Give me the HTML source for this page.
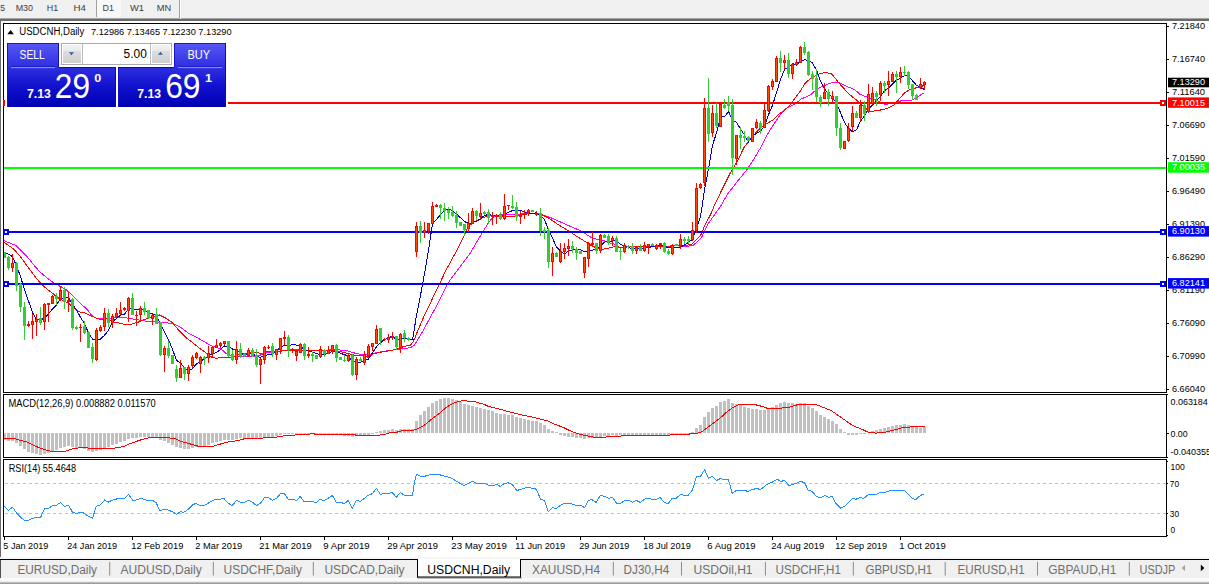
<!DOCTYPE html>
<html><head><meta charset="utf-8"><title>USDCNH</title><style>html,body{margin:0;padding:0;background:#fff;overflow:hidden}body{width:1209px;height:584px}</style></head><body>
<svg width="1209" height="584" viewBox="0 0 1209 584" font-family='"Liberation Sans", sans-serif' style="display:block">
<defs>
<linearGradient id="gb" x1="0" y1="43" x2="0" y2="107" gradientUnits="userSpaceOnUse">
<stop offset="0" stop-color="#5858f8"/><stop offset="0.36" stop-color="#3030e2"/><stop offset="0.7" stop-color="#1010cc"/><stop offset="1" stop-color="#0000b2"/></linearGradient>
<linearGradient id="gbtn" x1="0" y1="45" x2="0" y2="63" gradientUnits="userSpaceOnUse">
<stop offset="0" stop-color="#f2f2f2"/><stop offset="0.3" stop-color="#ebebeb"/><stop offset="0.36" stop-color="#dddddd"/><stop offset="1" stop-color="#cfcfcf"/></linearGradient>
<linearGradient id="garr" x1="0" y1="0" x2="0" y2="1"><stop offset="0" stop-color="#4a86dc"/><stop offset="1" stop-color="#3a2a4a"/></linearGradient>
<linearGradient id="garr2" x1="0" y1="0" x2="0" y2="1"><stop offset="0" stop-color="#4a3a5a"/><stop offset="1" stop-color="#4a86dc"/></linearGradient>
</defs>
<rect x="0" y="0" width="1209" height="584" fill="#fff" />
<rect x="0" y="0" width="1209" height="18" fill="#f0f0f0" />
<rect x="0" y="18" width="1209" height="1" fill="#a6a6a6" />
<rect x="0" y="19" width="1209" height="2" fill="#6a6a6a" />
<rect x="97" y="0" width="24" height="17" fill="#f8f8f8" />
<rect x="96" y="0" width="1" height="17" fill="#a0a0a0" />
<rect x="179" y="0" width="1" height="19" fill="#a0a0a0" />
<rect x="180" y="0" width="1" height="19" fill="#ffffff" />
<text x="0.3" y="10.8" font-size="9" fill="#3c3c3c" textLength="4.8" lengthAdjust="spacingAndGlyphs" >5</text>
<text x="15.7" y="10.8" font-size="9" fill="#3c3c3c" textLength="17.3" lengthAdjust="spacingAndGlyphs" >M30</text>
<text x="46.8" y="10.8" font-size="9" fill="#3c3c3c" textLength="11.4" lengthAdjust="spacingAndGlyphs" >H1</text>
<text x="73.6" y="10.8" font-size="9" fill="#3c3c3c" textLength="12.4" lengthAdjust="spacingAndGlyphs" >H4</text>
<text x="102.6" y="10.8" font-size="9" fill="#3c3c3c" textLength="11.4" lengthAdjust="spacingAndGlyphs" >D1</text>
<text x="130" y="10.8" font-size="9" fill="#3c3c3c" textLength="14" lengthAdjust="spacingAndGlyphs" >W1</text>
<text x="156.8" y="10.8" font-size="9" fill="#3c3c3c" textLength="14.4" lengthAdjust="spacingAndGlyphs" >MN</text>
<rect x="0" y="19" width="1" height="538" fill="#6a6a6a" />
<clipPath id="cm"><rect x="4" y="24" width="1162" height="368"/></clipPath>
<g clip-path="url(#cm)" shape-rendering="crispEdges">
<polyline points="4,240.7 10,243 16,245.6 20,249.5 26.5,255.9 33,264 39.7,271.8 46,277 52.9,282.4 59.5,286 66.2,289.6 75.4,298.2 80,303.2 86.6,308.9 91.9,315.5 97.2,318.8 106.5,318.6 117,317.5 126.3,317.8 135.6,319.5 146.2,321.2 159.4,322.1 172.6,323.5 180.6,327.4 188.5,333.2 199.1,338.7 207,343.3 212.8,346.3 220.8,348.8 227.7,354.8 231.7,356.2 257.5,356.2 261,354.8 265,352.3 277.8,352 280.8,350.6 290.7,349.8 317.5,350.3 337.4,349.8 343.3,350.3 348.2,351.1 356.4,353.6 363.3,354.9 370.1,354.1 381.1,351.8 394.8,349.7 405.8,348.4 410.4,347.7 414.5,345.2 417.8,339.6 422.6,331.4 427.5,322.5 432.4,313.5 437.3,304.6 442.1,294.8 447,285.1 451.1,278.6 456.8,271.3 463.3,262.3 469,255 470.6,252.6 477,241.5 483.5,230.7 487.9,223.8 492.6,217.3 499.9,214.9 514.4,214.9 523.7,213.5 532.9,213.5 540.9,214.2 548.8,216.8 559.4,221.5 572.6,227.4 580.6,230.7 589.8,236.7 596.5,239.3 601.8,240 607,242 613.7,244 619,247.3 632,246.6 666.8,246.2 676.7,245.7 683.6,246.5 692.6,245.7 697.5,241.7 701.5,237.7 703.5,232.8 707.5,224.8 714.8,214.3 721.4,205 727.1,194.7 737.9,180.8 747.2,169.3 753.3,160 761,147 765.5,137.7 771.5,127.7 779.4,115.8 785.4,108.9 791.3,105.9 795.3,103.9 801.3,99 809.9,95.3 817.6,88.6 826.8,84.6 833,82.2 839.2,82.6 847.9,86.8 854.9,89.8 859.9,94.3 864.8,96.2 874.8,99.7 879.7,101.7 884.7,104.2 893.6,103.7 899.6,101.2 904.5,100.2 911.5,100.2 917.5,97.2 921.4,94.3 924.5,92.8" fill="none" stroke="#ff00ff" stroke-width="1" />
<polyline points="4,242.4 13.2,248.6 19.9,255.9 26.5,265.1 33,274 39.7,282.4 46.3,288.5 52.9,293.6 59.6,298.9 68.8,303.5 78,311.5 84.7,312.9 93.2,316.8 99.9,319.5 106.5,318.8 114.4,322.1 123.7,324.1 130.3,324.4 138.2,322.1 146.2,318.8 154.1,316.2 159.4,314.9 166,318.2 172.6,322.8 177.9,329.4 185.9,337.4 192.5,342.6 199.1,347.9 205.7,352.6 211.8,357.2 216.8,358.5 219.8,357.2 231.7,357.2 243.6,353.3 257.5,352.5 262.5,354.3 266.5,351.9 280.8,351.6 282.8,350.8 299.6,350.6 317.5,350.3 335.4,350.3 340.4,351.5 348.2,353.6 357.8,355.9 363,356 368.8,357.3 372.9,353.8 381.1,352.2 394.8,349.7 400.3,347.7 408.5,345.2 410.4,345.2 413.7,341.2 416.1,334.7 421,323.3 425.9,311.9 430.8,302.2 434.8,293.2 439.7,283.5 445.4,271.3 450.3,262.3 454.3,255 455.7,252.6 460,244 464.6,234.7 468.1,226.5 474.5,221.8 482.2,218 489.9,215.6 502.7,216.7 514.4,216.2 523.7,214.2 535.6,213.5 542.2,214.9 548.8,218.2 559.4,225.4 567.3,230.1 575.3,235.4 585.9,242 589.8,244.6 595.1,247.3 603.1,249.3 612.3,247.3 615,246 620.3,247.3 640,246.5 681.7,245.9 687.6,245.2 692.6,243.7 696.5,239.7 700.5,235.7 703,229.8 705.5,223.8 710.4,214.9 714.8,204.5 722.5,188.5 730.2,173.1 734.8,165.4 739,158 743.7,148 751.6,137.7 757.6,130.7 765.5,124.3 772.5,120.3 779.4,113.8 785.4,109.9 791.3,103.4 795.3,97.9 800,91.5 805.3,83 811.6,77.7 819.5,73.7 825.5,72.4 831.4,73.7 836.4,79.7 841.4,86 849.9,94.8 857.9,101.2 864.8,107.7 869.8,111.6 877.7,110.6 886.7,108.7 893.6,105.2 898.6,99.7 904.5,92.8 909.5,89.8 914.5,88.3 919.4,86.8 924.5,85.5" fill="none" stroke="#ff0000" stroke-width="1" />
<polyline points="4.5,252.3 8.5,254.3 12.5,256.6 16.5,265.9 20.5,276.34 24.5,289.88 28.5,301 32.5,312.6 36.5,319.2 40.5,320.1 44.5,318 48.5,313.9 52.5,308.84 56.5,304.84 60.5,298.38 64.5,298.06 68.5,297.44 72.5,304 76.5,310.04 80.5,317.34 84.5,323.46 88.5,333 92.5,339.04 96.5,339.2 100.5,339.16 104.5,335.26 108.5,330.3 112.5,321.76 116.5,318.38 120.5,315.06 124.5,314.14 128.5,309.1 132.5,308.86 136.5,309.3 140.5,308.86 144.5,309.54 148.5,313.66 152.5,313.66 156.5,315.38 160.5,324.8 164.5,332.06 168.5,339.68 172.5,349.52 176.5,360.28 180.5,362.84 184.5,367.98 188.5,370.18 192.5,368.72 196.5,363.78 200.5,361.54 204.5,358.6 208.5,355.78 212.5,353.84 216.5,352.3 220.5,349.56 224.5,345.92 228.5,346.46 232.5,349 236.5,349.8 240.5,352.4 244.5,355.44 248.5,354.3 252.5,353.56 256.5,356.66 260.5,357.26 264.5,355.42 268.5,354.72 272.5,354.38 276.5,351.28 280.5,347.08 284.5,345.08 288.5,345.78 292.5,344.72 296.5,345.06 300.5,346.24 304.5,350.04 308.5,350.78 312.5,352.14 316.5,353.7 320.5,354.72 324.5,354.32 328.5,353.48 332.5,351.32 336.5,351.12 340.5,353.28 344.5,354.74 348.5,355.72 352.5,361.7 356.5,362 360.5,362.18 364.5,360.76 368.5,359 372.5,352.66 376.5,346.64 380.5,342.66 384.5,339.62 388.5,337.78 392.5,336.3 396.5,339.86 400.5,338.5 404.5,338.4 408.5,339.04 412.5,339.68 416.5,315.52 420.5,295.26 424.5,273.62 428.5,250.3 432.5,223.72 436.5,219.46 440.5,214.5 444.5,210.72 448.5,208.6 452.5,210.58 456.5,214.26 460.5,217.8 464.5,221.48 468.5,223.54 472.5,222.56 476.5,221.18 480.5,218.74 484.5,215.56 488.5,214.46 492.5,215.3 496.5,215.08 500.5,216.16 504.5,214.58 508.5,212.08 512.5,210.68 516.5,211.08 520.5,210.38 524.5,211.84 528.5,212.9 532.5,213.56 536.5,212.66 540.5,215.82 544.5,219.62 548.5,229.9 552.5,238.24 556.5,247.04 560.5,251.02 564.5,254.16 568.5,251.02 572.5,250.12 576.5,249.32 580.5,249.88 584.5,251.74 588.5,251.22 592.5,250.06 596.5,249.66 600.5,245.92 604.5,242.04 608.5,241.74 612.5,240.82 616.5,240.98 620.5,244.32 624.5,245.8 628.5,246.88 632.5,249.34 636.5,248.36 640.5,248.14 644.5,248.12 648.5,247.5 652.5,246.54 656.5,246.24 660.5,244.74 664.5,246.02 668.5,247.9 672.5,247.76 676.5,247.86 680.5,247.06 684.5,244.92 688.5,242.34 692.5,239.34 696.5,227.84 700.5,216.72 704.5,190.1 708.5,168.66 712.5,145.22 716.5,132.88 720.5,116.96 724.5,116.96 728.5,111.42 732.5,120.52 736.5,122.26 740.5,129.02 744.5,135 748.5,142.08 752.5,136.02 756.5,133.38 760.5,131.36 764.5,125.82 768.5,114.82 772.5,105.32 776.5,92.54 780.5,79.56 784.5,69.56 788.5,67.06 792.5,63.72 796.5,64.5 800.5,61.32 804.5,59.9 808.5,60.12 812.5,63.06 816.5,70 820.5,81.2 824.5,89.04 828.5,93.88 832.5,97.38 836.5,103.64 840.5,112.72 844.5,122.58 848.5,128.28 852.5,131.72 856.5,129.78 860.5,121.18 864.5,115.62 868.5,108.98 872.5,104.98 876.5,100.66 880.5,96.22 884.5,90.7 888.5,88.08 892.5,84.1 896.5,80.24 900.5,78.08 904.5,75.54 908.5,76.3 912.5,80.84 916.5,85.32 920.5,87.72 924.5,89.46" fill="none" stroke="#0000cd" stroke-width="1" />
</g>
<g shape-rendering="crispEdges">
<rect x="4" y="102" width="1162" height="2" fill="#ff0000" />
<rect x="4" y="167" width="1162" height="2" fill="#00ff00" />
<rect x="4" y="231" width="1162" height="2" fill="#0000ff" />
<rect x="4" y="283" width="1162" height="2" fill="#0000ff" />
</g>
<g clip-path="url(#cm)" shape-rendering="crispEdges">
<rect x="4" y="252" width="1" height="6" fill="#32cd32" />
<rect x="3" y="252" width="3" height="6" fill="#32cd32" />
<rect x="8" y="256" width="1" height="14" fill="#32cd32" />
<rect x="7" y="257" width="3" height="11" fill="#32cd32" />
<rect x="12" y="254" width="1" height="18" fill="#ff0000" />
<rect x="11" y="263" width="3" height="5" fill="#ff0000" />
<rect x="12" y="264" width="1" height="3" fill="#ff4a00" />
<rect x="16" y="262" width="1" height="29" fill="#32cd32" />
<rect x="15" y="263" width="3" height="23" fill="#32cd32" />
<rect x="20" y="283" width="1" height="29" fill="#32cd32" />
<rect x="19" y="284" width="3" height="23" fill="#32cd32" />
<rect x="24" y="302" width="1" height="38" fill="#32cd32" />
<rect x="23" y="307" width="3" height="19" fill="#32cd32" />
<rect x="28" y="321" width="1" height="6" fill="#ff0000" />
<rect x="27" y="324" width="3" height="2" fill="#ff0000" />
<rect x="32" y="314" width="1" height="25" fill="#ff0000" />
<rect x="31" y="321" width="3" height="4" fill="#ff0000" />
<rect x="32" y="322" width="1" height="2" fill="#ff4a00" />
<rect x="36" y="314" width="1" height="22" fill="#ff0000" />
<rect x="35" y="319" width="3" height="3" fill="#ff0000" />
<rect x="36" y="320" width="1" height="1" fill="#ff4a00" />
<rect x="40" y="307" width="1" height="18" fill="#32cd32" />
<rect x="39" y="318" width="3" height="5" fill="#32cd32" />
<rect x="44" y="303" width="1" height="27" fill="#ff0000" />
<rect x="43" y="304" width="3" height="18" fill="#ff0000" />
<rect x="44" y="305" width="1" height="16" fill="#ff4a00" />
<rect x="48" y="303" width="1" height="19" fill="#ff0000" />
<rect x="47" y="303" width="3" height="2" fill="#ff0000" />
<rect x="52" y="295" width="1" height="9" fill="#ff0000" />
<rect x="51" y="296" width="3" height="8" fill="#ff0000" />
<rect x="52" y="297" width="1" height="6" fill="#ff4a00" />
<rect x="56" y="293" width="1" height="12" fill="#32cd32" />
<rect x="55" y="296" width="3" height="3" fill="#32cd32" />
<rect x="60" y="286" width="1" height="15" fill="#ff0000" />
<rect x="59" y="290" width="3" height="9" fill="#ff0000" />
<rect x="60" y="291" width="1" height="7" fill="#ff4a00" />
<rect x="64" y="287" width="1" height="22" fill="#32cd32" />
<rect x="63" y="290" width="3" height="12" fill="#32cd32" />
<rect x="68" y="292" width="1" height="20" fill="#ff0000" />
<rect x="67" y="300" width="3" height="2" fill="#ff0000" />
<rect x="72" y="298" width="1" height="32" fill="#32cd32" />
<rect x="71" y="299" width="3" height="29" fill="#32cd32" />
<rect x="76" y="326" width="1" height="4" fill="#32cd32" />
<rect x="75" y="327" width="3" height="2" fill="#32cd32" />
<rect x="80" y="324" width="1" height="18" fill="#ff0000" />
<rect x="79" y="327" width="3" height="1" fill="#ff0000" />
<rect x="84" y="321" width="1" height="13" fill="#32cd32" />
<rect x="83" y="326" width="3" height="7" fill="#32cd32" />
<rect x="88" y="331" width="1" height="17" fill="#32cd32" />
<rect x="87" y="332" width="3" height="16" fill="#32cd32" />
<rect x="92" y="343" width="1" height="20" fill="#32cd32" />
<rect x="91" y="347" width="3" height="12" fill="#32cd32" />
<rect x="96" y="328" width="1" height="33" fill="#ff0000" />
<rect x="95" y="330" width="3" height="30" fill="#ff0000" />
<rect x="96" y="331" width="1" height="28" fill="#ff4a00" />
<rect x="100" y="325" width="1" height="7" fill="#ff0000" />
<rect x="99" y="327" width="3" height="4" fill="#ff0000" />
<rect x="100" y="328" width="1" height="2" fill="#ff4a00" />
<rect x="104" y="308" width="1" height="23" fill="#ff0000" />
<rect x="103" y="313" width="3" height="14" fill="#ff0000" />
<rect x="104" y="314" width="1" height="12" fill="#ff4a00" />
<rect x="108" y="309" width="1" height="18" fill="#32cd32" />
<rect x="107" y="313" width="3" height="10" fill="#32cd32" />
<rect x="112" y="314" width="1" height="14" fill="#ff0000" />
<rect x="111" y="316" width="3" height="7" fill="#ff0000" />
<rect x="112" y="317" width="1" height="5" fill="#ff4a00" />
<rect x="116" y="308" width="1" height="10" fill="#ff0000" />
<rect x="115" y="313" width="3" height="4" fill="#ff0000" />
<rect x="116" y="314" width="1" height="2" fill="#ff4a00" />
<rect x="120" y="302" width="1" height="13" fill="#ff0000" />
<rect x="119" y="310" width="3" height="4" fill="#ff0000" />
<rect x="120" y="311" width="1" height="2" fill="#ff4a00" />
<rect x="124" y="307" width="1" height="4" fill="#ff0000" />
<rect x="123" y="308" width="3" height="2" fill="#ff0000" />
<rect x="128" y="297" width="1" height="25" fill="#ff0000" />
<rect x="127" y="298" width="3" height="13" fill="#ff0000" />
<rect x="128" y="299" width="1" height="11" fill="#ff4a00" />
<rect x="132" y="293" width="1" height="22" fill="#32cd32" />
<rect x="131" y="298" width="3" height="17" fill="#32cd32" />
<rect x="136" y="311" width="1" height="15" fill="#ff0000" />
<rect x="135" y="315" width="3" height="1" fill="#ff0000" />
<rect x="140" y="306" width="1" height="16" fill="#ff0000" />
<rect x="139" y="308" width="3" height="7" fill="#ff0000" />
<rect x="140" y="309" width="1" height="5" fill="#ff4a00" />
<rect x="144" y="302" width="1" height="13" fill="#32cd32" />
<rect x="143" y="308" width="3" height="4" fill="#32cd32" />
<rect x="148" y="310" width="1" height="9" fill="#32cd32" />
<rect x="147" y="310" width="3" height="8" fill="#32cd32" />
<rect x="152" y="314" width="1" height="11" fill="#ff0000" />
<rect x="151" y="315" width="3" height="4" fill="#ff0000" />
<rect x="152" y="316" width="1" height="2" fill="#ff4a00" />
<rect x="156" y="308" width="1" height="16" fill="#32cd32" />
<rect x="155" y="314" width="3" height="10" fill="#32cd32" />
<rect x="160" y="322" width="1" height="34" fill="#32cd32" />
<rect x="159" y="322" width="3" height="33" fill="#32cd32" />
<rect x="164" y="346" width="1" height="26" fill="#ff0000" />
<rect x="163" y="348" width="3" height="7" fill="#ff0000" />
<rect x="164" y="349" width="1" height="5" fill="#ff4a00" />
<rect x="168" y="341" width="1" height="17" fill="#32cd32" />
<rect x="167" y="348" width="3" height="8" fill="#32cd32" />
<rect x="172" y="355" width="1" height="9" fill="#32cd32" />
<rect x="171" y="355" width="3" height="9" fill="#32cd32" />
<rect x="176" y="365" width="1" height="17" fill="#32cd32" />
<rect x="175" y="369" width="3" height="9" fill="#32cd32" />
<rect x="180" y="360" width="1" height="18" fill="#ff0000" />
<rect x="179" y="368" width="3" height="10" fill="#ff0000" />
<rect x="180" y="369" width="1" height="8" fill="#ff4a00" />
<rect x="184" y="367" width="1" height="13" fill="#32cd32" />
<rect x="183" y="367" width="3" height="7" fill="#32cd32" />
<rect x="188" y="365" width="1" height="16" fill="#ff0000" />
<rect x="187" y="367" width="3" height="7" fill="#ff0000" />
<rect x="188" y="368" width="1" height="5" fill="#ff4a00" />
<rect x="192" y="355" width="1" height="13" fill="#ff0000" />
<rect x="191" y="357" width="3" height="9" fill="#ff0000" />
<rect x="192" y="358" width="1" height="7" fill="#ff4a00" />
<rect x="196" y="352" width="1" height="7" fill="#ff0000" />
<rect x="195" y="353" width="3" height="5" fill="#ff0000" />
<rect x="196" y="354" width="1" height="3" fill="#ff4a00" />
<rect x="200" y="356" width="1" height="17" fill="#ff0000" />
<rect x="199" y="357" width="3" height="7" fill="#ff0000" />
<rect x="200" y="358" width="1" height="5" fill="#ff4a00" />
<rect x="204" y="356" width="1" height="9" fill="#32cd32" />
<rect x="203" y="357" width="3" height="2" fill="#32cd32" />
<rect x="208" y="346" width="1" height="17" fill="#ff0000" />
<rect x="207" y="353" width="3" height="5" fill="#ff0000" />
<rect x="208" y="354" width="1" height="3" fill="#ff4a00" />
<rect x="212" y="346" width="1" height="11" fill="#ff0000" />
<rect x="211" y="347" width="3" height="7" fill="#ff0000" />
<rect x="212" y="348" width="1" height="5" fill="#ff4a00" />
<rect x="216" y="339" width="1" height="9" fill="#ff0000" />
<rect x="215" y="345" width="3" height="3" fill="#ff0000" />
<rect x="216" y="346" width="1" height="1" fill="#ff4a00" />
<rect x="220" y="342" width="1" height="6" fill="#ff0000" />
<rect x="219" y="343" width="3" height="3" fill="#ff0000" />
<rect x="220" y="344" width="1" height="1" fill="#ff4a00" />
<rect x="224" y="341" width="1" height="4" fill="#ff0000" />
<rect x="223" y="341" width="3" height="3" fill="#ff0000" />
<rect x="224" y="342" width="1" height="1" fill="#ff4a00" />
<rect x="228" y="341" width="1" height="16" fill="#32cd32" />
<rect x="227" y="341" width="3" height="15" fill="#32cd32" />
<rect x="232" y="350" width="1" height="11" fill="#32cd32" />
<rect x="231" y="354" width="3" height="6" fill="#32cd32" />
<rect x="236" y="341" width="1" height="23" fill="#ff0000" />
<rect x="235" y="349" width="3" height="11" fill="#ff0000" />
<rect x="236" y="350" width="1" height="9" fill="#ff4a00" />
<rect x="240" y="343" width="1" height="15" fill="#32cd32" />
<rect x="239" y="349" width="3" height="7" fill="#32cd32" />
<rect x="244" y="353" width="1" height="4" fill="#32cd32" />
<rect x="243" y="354" width="3" height="2" fill="#32cd32" />
<rect x="248" y="348" width="1" height="9" fill="#ff0000" />
<rect x="247" y="350" width="3" height="6" fill="#ff0000" />
<rect x="248" y="351" width="1" height="4" fill="#ff4a00" />
<rect x="252" y="348" width="1" height="9" fill="#32cd32" />
<rect x="251" y="350" width="3" height="6" fill="#32cd32" />
<rect x="256" y="349" width="1" height="18" fill="#32cd32" />
<rect x="255" y="355" width="3" height="10" fill="#32cd32" />
<rect x="260" y="358" width="1" height="26" fill="#ff0000" />
<rect x="259" y="359" width="3" height="6" fill="#ff0000" />
<rect x="260" y="360" width="1" height="4" fill="#ff4a00" />
<rect x="264" y="346" width="1" height="18" fill="#ff0000" />
<rect x="263" y="347" width="3" height="13" fill="#ff0000" />
<rect x="264" y="348" width="1" height="11" fill="#ff4a00" />
<rect x="268" y="345" width="1" height="4" fill="#ff0000" />
<rect x="267" y="347" width="3" height="1" fill="#ff0000" />
<rect x="272" y="343" width="1" height="14" fill="#32cd32" />
<rect x="271" y="346" width="3" height="8" fill="#32cd32" />
<rect x="276" y="349" width="1" height="11" fill="#ff0000" />
<rect x="275" y="349" width="3" height="6" fill="#ff0000" />
<rect x="276" y="350" width="1" height="4" fill="#ff4a00" />
<rect x="280" y="338" width="1" height="16" fill="#ff0000" />
<rect x="279" y="338" width="3" height="12" fill="#ff0000" />
<rect x="280" y="339" width="1" height="10" fill="#ff4a00" />
<rect x="284" y="331" width="1" height="14" fill="#ff0000" />
<rect x="283" y="337" width="3" height="2" fill="#ff0000" />
<rect x="288" y="335" width="1" height="22" fill="#32cd32" />
<rect x="287" y="337" width="3" height="13" fill="#32cd32" />
<rect x="292" y="348" width="1" height="5" fill="#ff0000" />
<rect x="291" y="349" width="3" height="2" fill="#ff0000" />
<rect x="296" y="350" width="1" height="11" fill="#ff0000" />
<rect x="295" y="351" width="3" height="5" fill="#ff0000" />
<rect x="296" y="352" width="1" height="3" fill="#ff4a00" />
<rect x="300" y="343" width="1" height="10" fill="#ff0000" />
<rect x="299" y="344" width="3" height="9" fill="#ff0000" />
<rect x="300" y="345" width="1" height="7" fill="#ff4a00" />
<rect x="304" y="343" width="1" height="17" fill="#32cd32" />
<rect x="303" y="344" width="3" height="12" fill="#32cd32" />
<rect x="308" y="347" width="1" height="11" fill="#ff0000" />
<rect x="307" y="354" width="3" height="2" fill="#ff0000" />
<rect x="312" y="352" width="1" height="10" fill="#32cd32" />
<rect x="311" y="354" width="3" height="2" fill="#32cd32" />
<rect x="316" y="355" width="1" height="4" fill="#32cd32" />
<rect x="315" y="355" width="3" height="4" fill="#32cd32" />
<rect x="320" y="346" width="1" height="12" fill="#ff0000" />
<rect x="319" y="349" width="3" height="8" fill="#ff0000" />
<rect x="320" y="350" width="1" height="6" fill="#ff4a00" />
<rect x="324" y="349" width="1" height="8" fill="#32cd32" />
<rect x="323" y="350" width="3" height="4" fill="#32cd32" />
<rect x="328" y="346" width="1" height="8" fill="#ff0000" />
<rect x="327" y="350" width="3" height="4" fill="#ff0000" />
<rect x="328" y="351" width="1" height="2" fill="#ff4a00" />
<rect x="332" y="345" width="1" height="9" fill="#ff0000" />
<rect x="331" y="345" width="3" height="6" fill="#ff0000" />
<rect x="332" y="346" width="1" height="4" fill="#ff4a00" />
<rect x="336" y="344" width="1" height="18" fill="#32cd32" />
<rect x="335" y="345" width="3" height="13" fill="#32cd32" />
<rect x="340" y="357" width="1" height="3" fill="#32cd32" />
<rect x="339" y="357" width="3" height="3" fill="#32cd32" />
<rect x="344" y="355" width="1" height="7" fill="#32cd32" />
<rect x="343" y="360" width="3" height="1" fill="#32cd32" />
<rect x="348" y="353" width="1" height="9" fill="#ff0000" />
<rect x="347" y="355" width="3" height="6" fill="#ff0000" />
<rect x="348" y="356" width="1" height="4" fill="#ff4a00" />
<rect x="352" y="354" width="1" height="22" fill="#32cd32" />
<rect x="351" y="355" width="3" height="20" fill="#32cd32" />
<rect x="356" y="357" width="1" height="23" fill="#ff0000" />
<rect x="355" y="359" width="3" height="16" fill="#ff0000" />
<rect x="356" y="360" width="1" height="14" fill="#ff4a00" />
<rect x="360" y="357" width="1" height="4" fill="#32cd32" />
<rect x="359" y="359" width="3" height="2" fill="#32cd32" />
<rect x="364" y="351" width="1" height="14" fill="#ff0000" />
<rect x="363" y="354" width="3" height="9" fill="#ff0000" />
<rect x="364" y="355" width="1" height="7" fill="#ff4a00" />
<rect x="368" y="344" width="1" height="13" fill="#ff0000" />
<rect x="367" y="346" width="3" height="10" fill="#ff0000" />
<rect x="368" y="347" width="1" height="8" fill="#ff4a00" />
<rect x="372" y="343" width="1" height="8" fill="#ff0000" />
<rect x="371" y="343" width="3" height="4" fill="#ff0000" />
<rect x="372" y="344" width="1" height="2" fill="#ff4a00" />
<rect x="376" y="325" width="1" height="19" fill="#ff0000" />
<rect x="375" y="329" width="3" height="15" fill="#ff0000" />
<rect x="376" y="330" width="1" height="13" fill="#ff4a00" />
<rect x="380" y="328" width="1" height="17" fill="#32cd32" />
<rect x="379" y="328" width="3" height="13" fill="#32cd32" />
<rect x="384" y="338" width="1" height="3" fill="#ff0000" />
<rect x="383" y="339" width="3" height="1" fill="#ff0000" />
<rect x="388" y="334" width="1" height="9" fill="#ff0000" />
<rect x="387" y="337" width="3" height="3" fill="#ff0000" />
<rect x="388" y="338" width="1" height="1" fill="#ff4a00" />
<rect x="392" y="332" width="1" height="8" fill="#ff0000" />
<rect x="391" y="336" width="3" height="2" fill="#ff0000" />
<rect x="396" y="336" width="1" height="14" fill="#32cd32" />
<rect x="395" y="336" width="3" height="11" fill="#32cd32" />
<rect x="400" y="333" width="1" height="20" fill="#ff0000" />
<rect x="399" y="334" width="3" height="14" fill="#ff0000" />
<rect x="400" y="335" width="1" height="12" fill="#ff4a00" />
<rect x="404" y="330" width="1" height="12" fill="#32cd32" />
<rect x="403" y="333" width="3" height="5" fill="#32cd32" />
<rect x="408" y="337" width="1" height="4" fill="#32cd32" />
<rect x="407" y="338" width="3" height="2" fill="#32cd32" />
<rect x="412" y="339" width="1" height="1" fill="#000" />
<rect x="411" y="339" width="3" height="1" fill="#000" />
<rect x="416" y="222" width="1" height="35" fill="#ff0000" />
<rect x="415" y="226" width="3" height="26" fill="#ff0000" />
<rect x="416" y="227" width="1" height="24" fill="#ff4a00" />
<rect x="420" y="221" width="1" height="22" fill="#32cd32" />
<rect x="419" y="226" width="3" height="7" fill="#32cd32" />
<rect x="424" y="222" width="1" height="16" fill="#ff0000" />
<rect x="423" y="230" width="3" height="3" fill="#ff0000" />
<rect x="424" y="231" width="1" height="1" fill="#ff4a00" />
<rect x="428" y="223" width="1" height="11" fill="#ff0000" />
<rect x="427" y="223" width="3" height="8" fill="#ff0000" />
<rect x="428" y="224" width="1" height="6" fill="#ff4a00" />
<rect x="432" y="202" width="1" height="22" fill="#ff0000" />
<rect x="431" y="206" width="3" height="18" fill="#ff0000" />
<rect x="432" y="207" width="1" height="16" fill="#ff4a00" />
<rect x="436" y="204" width="1" height="3" fill="#ff0000" />
<rect x="435" y="205" width="3" height="2" fill="#ff0000" />
<rect x="440" y="204" width="1" height="15" fill="#32cd32" />
<rect x="439" y="205" width="3" height="3" fill="#32cd32" />
<rect x="444" y="203" width="1" height="18" fill="#32cd32" />
<rect x="443" y="208" width="3" height="3" fill="#32cd32" />
<rect x="448" y="207" width="1" height="12" fill="#32cd32" />
<rect x="447" y="210" width="3" height="3" fill="#32cd32" />
<rect x="452" y="206" width="1" height="11" fill="#32cd32" />
<rect x="451" y="212" width="3" height="4" fill="#32cd32" />
<rect x="456" y="211" width="1" height="17" fill="#32cd32" />
<rect x="455" y="215" width="3" height="8" fill="#32cd32" />
<rect x="460" y="222" width="1" height="4" fill="#32cd32" />
<rect x="459" y="222" width="3" height="4" fill="#32cd32" />
<rect x="464" y="224" width="1" height="12" fill="#32cd32" />
<rect x="463" y="224" width="3" height="6" fill="#32cd32" />
<rect x="468" y="213" width="1" height="19" fill="#ff0000" />
<rect x="467" y="223" width="3" height="6" fill="#ff0000" />
<rect x="468" y="224" width="1" height="4" fill="#ff4a00" />
<rect x="472" y="208" width="1" height="16" fill="#ff0000" />
<rect x="471" y="211" width="3" height="13" fill="#ff0000" />
<rect x="472" y="212" width="1" height="11" fill="#ff4a00" />
<rect x="476" y="210" width="1" height="10" fill="#32cd32" />
<rect x="475" y="211" width="3" height="5" fill="#32cd32" />
<rect x="480" y="203" width="1" height="17" fill="#ff0000" />
<rect x="479" y="213" width="3" height="4" fill="#ff0000" />
<rect x="480" y="214" width="1" height="2" fill="#ff4a00" />
<rect x="484" y="211" width="1" height="4" fill="#32cd32" />
<rect x="483" y="212" width="3" height="2" fill="#32cd32" />
<rect x="488" y="209" width="1" height="15" fill="#32cd32" />
<rect x="487" y="212" width="3" height="6" fill="#32cd32" />
<rect x="492" y="212" width="1" height="13" fill="#ff0000" />
<rect x="491" y="215" width="3" height="2" fill="#ff0000" />
<rect x="496" y="214" width="1" height="10" fill="#ff0000" />
<rect x="495" y="215" width="3" height="2" fill="#ff0000" />
<rect x="500" y="212" width="1" height="8" fill="#32cd32" />
<rect x="499" y="215" width="3" height="4" fill="#32cd32" />
<rect x="504" y="194" width="1" height="26" fill="#ff0000" />
<rect x="503" y="206" width="3" height="13" fill="#ff0000" />
<rect x="504" y="207" width="1" height="11" fill="#ff4a00" />
<rect x="508" y="205" width="1" height="5" fill="#ff0000" />
<rect x="507" y="205" width="3" height="1" fill="#ff0000" />
<rect x="512" y="195" width="1" height="14" fill="#32cd32" />
<rect x="511" y="206" width="3" height="2" fill="#32cd32" />
<rect x="516" y="202" width="1" height="19" fill="#32cd32" />
<rect x="515" y="207" width="3" height="10" fill="#32cd32" />
<rect x="520" y="211" width="1" height="13" fill="#ff0000" />
<rect x="519" y="215" width="3" height="2" fill="#ff0000" />
<rect x="524" y="210" width="1" height="9" fill="#ff0000" />
<rect x="523" y="213" width="3" height="2" fill="#ff0000" />
<rect x="528" y="209" width="1" height="7" fill="#ff0000" />
<rect x="527" y="210" width="3" height="3" fill="#ff0000" />
<rect x="528" y="211" width="1" height="1" fill="#ff4a00" />
<rect x="532" y="210" width="1" height="2" fill="#32cd32" />
<rect x="531" y="210" width="3" height="2" fill="#32cd32" />
<rect x="536" y="211" width="1" height="5" fill="#ff0000" />
<rect x="535" y="213" width="3" height="2" fill="#ff0000" />
<rect x="540" y="208" width="1" height="28" fill="#32cd32" />
<rect x="539" y="213" width="3" height="18" fill="#32cd32" />
<rect x="544" y="227" width="1" height="12" fill="#32cd32" />
<rect x="543" y="230" width="3" height="2" fill="#32cd32" />
<rect x="548" y="228" width="1" height="40" fill="#32cd32" />
<rect x="547" y="230" width="3" height="32" fill="#32cd32" />
<rect x="552" y="247" width="1" height="29" fill="#ff0000" />
<rect x="551" y="253" width="3" height="9" fill="#ff0000" />
<rect x="552" y="254" width="1" height="7" fill="#ff4a00" />
<rect x="556" y="252" width="1" height="5" fill="#32cd32" />
<rect x="555" y="253" width="3" height="4" fill="#32cd32" />
<rect x="560" y="243" width="1" height="20" fill="#ff0000" />
<rect x="559" y="251" width="3" height="11" fill="#ff0000" />
<rect x="560" y="252" width="1" height="9" fill="#ff4a00" />
<rect x="564" y="243" width="1" height="16" fill="#ff0000" />
<rect x="563" y="248" width="3" height="4" fill="#ff0000" />
<rect x="564" y="249" width="1" height="2" fill="#ff4a00" />
<rect x="568" y="239" width="1" height="17" fill="#ff0000" />
<rect x="567" y="246" width="3" height="3" fill="#ff0000" />
<rect x="568" y="247" width="1" height="1" fill="#ff4a00" />
<rect x="572" y="241" width="1" height="12" fill="#32cd32" />
<rect x="571" y="246" width="3" height="3" fill="#32cd32" />
<rect x="576" y="247" width="1" height="13" fill="#32cd32" />
<rect x="575" y="249" width="3" height="4" fill="#32cd32" />
<rect x="580" y="251" width="1" height="3" fill="#32cd32" />
<rect x="579" y="251" width="3" height="3" fill="#32cd32" />
<rect x="584" y="257" width="1" height="21" fill="#ff0000" />
<rect x="583" y="257" width="3" height="16" fill="#ff0000" />
<rect x="584" y="258" width="1" height="14" fill="#ff4a00" />
<rect x="588" y="242" width="1" height="25" fill="#ff0000" />
<rect x="587" y="243" width="3" height="16" fill="#ff0000" />
<rect x="588" y="244" width="1" height="14" fill="#ff4a00" />
<rect x="592" y="232" width="1" height="15" fill="#ff0000" />
<rect x="591" y="243" width="3" height="2" fill="#ff0000" />
<rect x="596" y="243" width="1" height="11" fill="#32cd32" />
<rect x="595" y="243" width="3" height="8" fill="#32cd32" />
<rect x="600" y="234" width="1" height="19" fill="#ff0000" />
<rect x="599" y="235" width="3" height="16" fill="#ff0000" />
<rect x="600" y="236" width="1" height="14" fill="#ff4a00" />
<rect x="604" y="234" width="1" height="4" fill="#32cd32" />
<rect x="603" y="235" width="3" height="3" fill="#32cd32" />
<rect x="608" y="234" width="1" height="11" fill="#32cd32" />
<rect x="607" y="236" width="3" height="6" fill="#32cd32" />
<rect x="612" y="236" width="1" height="10" fill="#ff0000" />
<rect x="611" y="238" width="3" height="3" fill="#ff0000" />
<rect x="612" y="239" width="1" height="1" fill="#ff4a00" />
<rect x="616" y="236" width="1" height="16" fill="#32cd32" />
<rect x="615" y="238" width="3" height="14" fill="#32cd32" />
<rect x="620" y="248" width="1" height="12" fill="#32cd32" />
<rect x="619" y="251" width="3" height="1" fill="#32cd32" />
<rect x="624" y="243" width="1" height="10" fill="#ff0000" />
<rect x="623" y="245" width="3" height="7" fill="#ff0000" />
<rect x="624" y="246" width="1" height="5" fill="#ff4a00" />
<rect x="628" y="245" width="1" height="4" fill="#32cd32" />
<rect x="627" y="246" width="3" height="1" fill="#32cd32" />
<rect x="632" y="243" width="1" height="11" fill="#32cd32" />
<rect x="631" y="246" width="3" height="5" fill="#32cd32" />
<rect x="636" y="246" width="1" height="8" fill="#ff0000" />
<rect x="635" y="247" width="3" height="4" fill="#ff0000" />
<rect x="636" y="248" width="1" height="2" fill="#ff4a00" />
<rect x="640" y="244" width="1" height="7" fill="#32cd32" />
<rect x="639" y="247" width="3" height="4" fill="#32cd32" />
<rect x="644" y="242" width="1" height="10" fill="#ff0000" />
<rect x="643" y="245" width="3" height="6" fill="#ff0000" />
<rect x="644" y="246" width="1" height="4" fill="#ff4a00" />
<rect x="648" y="244" width="1" height="10" fill="#ff0000" />
<rect x="647" y="244" width="3" height="3" fill="#ff0000" />
<rect x="648" y="245" width="1" height="1" fill="#ff4a00" />
<rect x="652" y="243" width="1" height="3" fill="#32cd32" />
<rect x="651" y="244" width="3" height="2" fill="#32cd32" />
<rect x="656" y="244" width="1" height="6" fill="#ff0000" />
<rect x="655" y="245" width="3" height="4" fill="#ff0000" />
<rect x="656" y="246" width="1" height="2" fill="#ff4a00" />
<rect x="660" y="243" width="1" height="6" fill="#ff0000" />
<rect x="659" y="243" width="3" height="2" fill="#ff0000" />
<rect x="664" y="242" width="1" height="11" fill="#32cd32" />
<rect x="663" y="243" width="3" height="9" fill="#32cd32" />
<rect x="668" y="249" width="1" height="6" fill="#32cd32" />
<rect x="667" y="251" width="3" height="3" fill="#32cd32" />
<rect x="672" y="244" width="1" height="11" fill="#ff0000" />
<rect x="671" y="245" width="3" height="9" fill="#ff0000" />
<rect x="672" y="246" width="1" height="7" fill="#ff4a00" />
<rect x="676" y="244" width="1" height="2" fill="#32cd32" />
<rect x="675" y="244" width="3" height="2" fill="#32cd32" />
<rect x="680" y="234" width="1" height="15" fill="#ff0000" />
<rect x="679" y="239" width="3" height="7" fill="#ff0000" />
<rect x="680" y="240" width="1" height="5" fill="#ff4a00" />
<rect x="684" y="237" width="1" height="7" fill="#32cd32" />
<rect x="683" y="239" width="3" height="2" fill="#32cd32" />
<rect x="688" y="236" width="1" height="8" fill="#32cd32" />
<rect x="687" y="239" width="3" height="2" fill="#32cd32" />
<rect x="692" y="222" width="1" height="19" fill="#ff0000" />
<rect x="691" y="230" width="3" height="10" fill="#ff0000" />
<rect x="692" y="231" width="1" height="8" fill="#ff4a00" />
<rect x="696" y="183" width="1" height="50" fill="#ff0000" />
<rect x="695" y="188" width="3" height="43" fill="#ff0000" />
<rect x="696" y="189" width="1" height="41" fill="#ff4a00" />
<rect x="700" y="183" width="1" height="6" fill="#ff0000" />
<rect x="699" y="184" width="3" height="4" fill="#ff0000" />
<rect x="700" y="185" width="1" height="2" fill="#ff4a00" />
<rect x="704" y="98" width="1" height="88" fill="#ff0000" />
<rect x="703" y="108" width="3" height="75" fill="#ff0000" />
<rect x="704" y="109" width="1" height="73" fill="#ff4a00" />
<rect x="708" y="78" width="1" height="64" fill="#32cd32" />
<rect x="707" y="108" width="3" height="26" fill="#32cd32" />
<rect x="712" y="105" width="1" height="32" fill="#ff0000" />
<rect x="711" y="113" width="3" height="20" fill="#ff0000" />
<rect x="712" y="114" width="1" height="18" fill="#ff4a00" />
<rect x="716" y="103" width="1" height="25" fill="#32cd32" />
<rect x="715" y="113" width="3" height="13" fill="#32cd32" />
<rect x="720" y="104" width="1" height="23" fill="#ff0000" />
<rect x="719" y="104" width="3" height="23" fill="#ff0000" />
<rect x="720" y="105" width="1" height="21" fill="#ff4a00" />
<rect x="724" y="99" width="1" height="10" fill="#32cd32" />
<rect x="723" y="105" width="3" height="3" fill="#32cd32" />
<rect x="728" y="96" width="1" height="15" fill="#32cd32" />
<rect x="727" y="102" width="3" height="4" fill="#32cd32" />
<rect x="732" y="99" width="1" height="76" fill="#32cd32" />
<rect x="731" y="105" width="3" height="53" fill="#32cd32" />
<rect x="736" y="135" width="1" height="30" fill="#ff0000" />
<rect x="735" y="135" width="3" height="24" fill="#ff0000" />
<rect x="736" y="136" width="1" height="22" fill="#ff4a00" />
<rect x="740" y="127" width="1" height="22" fill="#32cd32" />
<rect x="739" y="135" width="3" height="3" fill="#32cd32" />
<rect x="744" y="131" width="1" height="11" fill="#32cd32" />
<rect x="743" y="136" width="3" height="2" fill="#32cd32" />
<rect x="748" y="136" width="1" height="5" fill="#32cd32" />
<rect x="747" y="137" width="3" height="4" fill="#32cd32" />
<rect x="752" y="128" width="1" height="14" fill="#ff0000" />
<rect x="751" y="128" width="3" height="14" fill="#ff0000" />
<rect x="752" y="129" width="1" height="12" fill="#ff4a00" />
<rect x="756" y="119" width="1" height="10" fill="#ff0000" />
<rect x="755" y="122" width="3" height="6" fill="#ff0000" />
<rect x="756" y="123" width="1" height="4" fill="#ff4a00" />
<rect x="760" y="121" width="1" height="13" fill="#32cd32" />
<rect x="759" y="123" width="3" height="5" fill="#32cd32" />
<rect x="764" y="104" width="1" height="24" fill="#ff0000" />
<rect x="763" y="110" width="3" height="18" fill="#ff0000" />
<rect x="764" y="111" width="1" height="16" fill="#ff4a00" />
<rect x="768" y="85" width="1" height="27" fill="#ff0000" />
<rect x="767" y="86" width="3" height="25" fill="#ff0000" />
<rect x="768" y="87" width="1" height="23" fill="#ff4a00" />
<rect x="772" y="79" width="1" height="11" fill="#ff0000" />
<rect x="771" y="81" width="3" height="6" fill="#ff0000" />
<rect x="772" y="82" width="1" height="4" fill="#ff4a00" />
<rect x="776" y="56" width="1" height="26" fill="#ff0000" />
<rect x="775" y="58" width="3" height="24" fill="#ff0000" />
<rect x="776" y="59" width="1" height="22" fill="#ff4a00" />
<rect x="780" y="51" width="1" height="21" fill="#32cd32" />
<rect x="779" y="58" width="3" height="5" fill="#32cd32" />
<rect x="784" y="55" width="1" height="14" fill="#ff0000" />
<rect x="783" y="60" width="3" height="3" fill="#ff0000" />
<rect x="784" y="61" width="1" height="1" fill="#ff4a00" />
<rect x="788" y="53" width="1" height="25" fill="#32cd32" />
<rect x="787" y="60" width="3" height="14" fill="#32cd32" />
<rect x="792" y="63" width="1" height="16" fill="#ff0000" />
<rect x="791" y="64" width="3" height="10" fill="#ff0000" />
<rect x="792" y="65" width="1" height="8" fill="#ff4a00" />
<rect x="796" y="59" width="1" height="7" fill="#ff0000" />
<rect x="795" y="62" width="3" height="3" fill="#ff0000" />
<rect x="796" y="63" width="1" height="1" fill="#ff4a00" />
<rect x="800" y="46" width="1" height="17" fill="#ff0000" />
<rect x="799" y="47" width="3" height="16" fill="#ff0000" />
<rect x="800" y="48" width="1" height="14" fill="#ff4a00" />
<rect x="804" y="42" width="1" height="13" fill="#32cd32" />
<rect x="803" y="47" width="3" height="6" fill="#32cd32" />
<rect x="808" y="51" width="1" height="25" fill="#32cd32" />
<rect x="807" y="52" width="3" height="23" fill="#32cd32" />
<rect x="812" y="71" width="1" height="19" fill="#32cd32" />
<rect x="811" y="74" width="3" height="5" fill="#32cd32" />
<rect x="816" y="69" width="1" height="33" fill="#32cd32" />
<rect x="815" y="78" width="3" height="19" fill="#32cd32" />
<rect x="820" y="95" width="1" height="12" fill="#32cd32" />
<rect x="819" y="97" width="3" height="6" fill="#32cd32" />
<rect x="824" y="83" width="1" height="16" fill="#ff0000" />
<rect x="823" y="92" width="3" height="7" fill="#ff0000" />
<rect x="824" y="93" width="1" height="5" fill="#ff4a00" />
<rect x="828" y="89" width="1" height="17" fill="#32cd32" />
<rect x="827" y="92" width="3" height="7" fill="#32cd32" />
<rect x="832" y="91" width="1" height="11" fill="#ff0000" />
<rect x="831" y="96" width="3" height="3" fill="#ff0000" />
<rect x="832" y="97" width="1" height="1" fill="#ff4a00" />
<rect x="836" y="96" width="1" height="40" fill="#32cd32" />
<rect x="835" y="96" width="3" height="32" fill="#32cd32" />
<rect x="840" y="123" width="1" height="27" fill="#32cd32" />
<rect x="839" y="128" width="3" height="20" fill="#32cd32" />
<rect x="844" y="141" width="1" height="8" fill="#ff0000" />
<rect x="843" y="141" width="3" height="8" fill="#ff0000" />
<rect x="844" y="142" width="1" height="6" fill="#ff4a00" />
<rect x="848" y="123" width="1" height="19" fill="#ff0000" />
<rect x="847" y="128" width="3" height="13" fill="#ff0000" />
<rect x="848" y="129" width="1" height="11" fill="#ff4a00" />
<rect x="852" y="106" width="1" height="25" fill="#ff0000" />
<rect x="851" y="113" width="3" height="14" fill="#ff0000" />
<rect x="852" y="114" width="1" height="12" fill="#ff4a00" />
<rect x="856" y="111" width="1" height="7" fill="#32cd32" />
<rect x="855" y="113" width="3" height="5" fill="#32cd32" />
<rect x="860" y="100" width="1" height="21" fill="#ff0000" />
<rect x="859" y="105" width="3" height="13" fill="#ff0000" />
<rect x="860" y="106" width="1" height="11" fill="#ff4a00" />
<rect x="864" y="101" width="1" height="20" fill="#32cd32" />
<rect x="863" y="105" width="3" height="9" fill="#32cd32" />
<rect x="868" y="84" width="1" height="29" fill="#ff0000" />
<rect x="867" y="94" width="3" height="18" fill="#ff0000" />
<rect x="868" y="95" width="1" height="16" fill="#ff4a00" />
<rect x="872" y="87" width="1" height="18" fill="#ff0000" />
<rect x="871" y="93" width="3" height="11" fill="#ff0000" />
<rect x="872" y="94" width="1" height="9" fill="#ff4a00" />
<rect x="876" y="91" width="1" height="15" fill="#32cd32" />
<rect x="875" y="93" width="3" height="4" fill="#32cd32" />
<rect x="880" y="81" width="1" height="20" fill="#ff0000" />
<rect x="879" y="83" width="3" height="12" fill="#ff0000" />
<rect x="880" y="84" width="1" height="10" fill="#ff4a00" />
<rect x="884" y="81" width="1" height="12" fill="#32cd32" />
<rect x="883" y="83" width="3" height="3" fill="#32cd32" />
<rect x="888" y="71" width="1" height="25" fill="#ff0000" />
<rect x="887" y="81" width="3" height="4" fill="#ff0000" />
<rect x="888" y="82" width="1" height="2" fill="#ff4a00" />
<rect x="892" y="72" width="1" height="10" fill="#ff0000" />
<rect x="891" y="74" width="3" height="8" fill="#ff0000" />
<rect x="892" y="75" width="1" height="6" fill="#ff4a00" />
<rect x="896" y="71" width="1" height="22" fill="#32cd32" />
<rect x="895" y="74" width="3" height="3" fill="#32cd32" />
<rect x="900" y="67" width="1" height="16" fill="#ff0000" />
<rect x="899" y="72" width="3" height="5" fill="#ff0000" />
<rect x="900" y="73" width="1" height="3" fill="#ff4a00" />
<rect x="904" y="66" width="1" height="10" fill="#32cd32" />
<rect x="903" y="72" width="3" height="1" fill="#32cd32" />
<rect x="908" y="71" width="1" height="18" fill="#32cd32" />
<rect x="907" y="72" width="3" height="13" fill="#32cd32" />
<rect x="912" y="84" width="1" height="16" fill="#32cd32" />
<rect x="911" y="84" width="3" height="12" fill="#32cd32" />
<rect x="916" y="94" width="1" height="6" fill="#32cd32" />
<rect x="915" y="95" width="3" height="5" fill="#32cd32" />
<rect x="920" y="78" width="1" height="11" fill="#ff0000" />
<rect x="919" y="84" width="3" height="4" fill="#ff0000" />
<rect x="920" y="85" width="1" height="2" fill="#ff4a00" />
<rect x="924" y="81" width="1" height="9" fill="#ff0000" />
<rect x="923" y="82" width="3" height="3" fill="#ff0000" />
<rect x="924" y="83" width="1" height="1" fill="#ff4a00" />
</g>
<g shape-rendering="crispEdges">
<rect x="3" y="433" width="3" height="7" fill="#c0c0c0" />
<rect x="7" y="433" width="3" height="8" fill="#c0c0c0" />
<rect x="11" y="433" width="3" height="8" fill="#c0c0c0" />
<rect x="15" y="433" width="3" height="10" fill="#c0c0c0" />
<rect x="19" y="433" width="3" height="13" fill="#c0c0c0" />
<rect x="23" y="433" width="3" height="16" fill="#c0c0c0" />
<rect x="27" y="433" width="3" height="19" fill="#c0c0c0" />
<rect x="31" y="433" width="3" height="20" fill="#c0c0c0" />
<rect x="35" y="433" width="3" height="21" fill="#c0c0c0" />
<rect x="39" y="433" width="3" height="22" fill="#c0c0c0" />
<rect x="43" y="433" width="3" height="21" fill="#c0c0c0" />
<rect x="47" y="433" width="3" height="20" fill="#c0c0c0" />
<rect x="51" y="433" width="3" height="18" fill="#c0c0c0" />
<rect x="55" y="433" width="3" height="17" fill="#c0c0c0" />
<rect x="59" y="433" width="3" height="15" fill="#c0c0c0" />
<rect x="63" y="433" width="3" height="14" fill="#c0c0c0" />
<rect x="67" y="433" width="3" height="13" fill="#c0c0c0" />
<rect x="71" y="433" width="3" height="14" fill="#c0c0c0" />
<rect x="75" y="433" width="3" height="15" fill="#c0c0c0" />
<rect x="79" y="433" width="3" height="15" fill="#c0c0c0" />
<rect x="83" y="433" width="3" height="16" fill="#c0c0c0" />
<rect x="87" y="433" width="3" height="18" fill="#c0c0c0" />
<rect x="91" y="433" width="3" height="19" fill="#c0c0c0" />
<rect x="95" y="433" width="3" height="18" fill="#c0c0c0" />
<rect x="99" y="433" width="3" height="17" fill="#c0c0c0" />
<rect x="103" y="433" width="3" height="15" fill="#c0c0c0" />
<rect x="107" y="433" width="3" height="14" fill="#c0c0c0" />
<rect x="111" y="433" width="3" height="12" fill="#c0c0c0" />
<rect x="115" y="433" width="3" height="11" fill="#c0c0c0" />
<rect x="119" y="433" width="3" height="9" fill="#c0c0c0" />
<rect x="123" y="433" width="3" height="8" fill="#c0c0c0" />
<rect x="127" y="433" width="3" height="6" fill="#c0c0c0" />
<rect x="131" y="433" width="3" height="5" fill="#c0c0c0" />
<rect x="135" y="433" width="3" height="5" fill="#c0c0c0" />
<rect x="139" y="433" width="3" height="4" fill="#c0c0c0" />
<rect x="143" y="433" width="3" height="4" fill="#c0c0c0" />
<rect x="147" y="433" width="3" height="4" fill="#c0c0c0" />
<rect x="151" y="433" width="3" height="4" fill="#c0c0c0" />
<rect x="155" y="433" width="3" height="5" fill="#c0c0c0" />
<rect x="159" y="433" width="3" height="7" fill="#c0c0c0" />
<rect x="163" y="433" width="3" height="8" fill="#c0c0c0" />
<rect x="167" y="433" width="3" height="10" fill="#c0c0c0" />
<rect x="171" y="433" width="3" height="12" fill="#c0c0c0" />
<rect x="175" y="433" width="3" height="14" fill="#c0c0c0" />
<rect x="179" y="433" width="3" height="15" fill="#c0c0c0" />
<rect x="183" y="433" width="3" height="16" fill="#c0c0c0" />
<rect x="187" y="433" width="3" height="16" fill="#c0c0c0" />
<rect x="191" y="433" width="3" height="15" fill="#c0c0c0" />
<rect x="195" y="433" width="3" height="14" fill="#c0c0c0" />
<rect x="199" y="433" width="3" height="13" fill="#c0c0c0" />
<rect x="203" y="433" width="3" height="13" fill="#c0c0c0" />
<rect x="207" y="433" width="3" height="12" fill="#c0c0c0" />
<rect x="211" y="433" width="3" height="10" fill="#c0c0c0" />
<rect x="215" y="433" width="3" height="9" fill="#c0c0c0" />
<rect x="219" y="433" width="3" height="8" fill="#c0c0c0" />
<rect x="223" y="433" width="3" height="7" fill="#c0c0c0" />
<rect x="227" y="433" width="3" height="7" fill="#c0c0c0" />
<rect x="231" y="433" width="3" height="7" fill="#c0c0c0" />
<rect x="235" y="433" width="3" height="6" fill="#c0c0c0" />
<rect x="239" y="433" width="3" height="5" fill="#c0c0c0" />
<rect x="243" y="433" width="3" height="5" fill="#c0c0c0" />
<rect x="247" y="433" width="3" height="5" fill="#c0c0c0" />
<rect x="251" y="433" width="3" height="5" fill="#c0c0c0" />
<rect x="255" y="433" width="3" height="5" fill="#c0c0c0" />
<rect x="259" y="433" width="3" height="5" fill="#c0c0c0" />
<rect x="263" y="433" width="3" height="5" fill="#c0c0c0" />
<rect x="267" y="433" width="3" height="4" fill="#c0c0c0" />
<rect x="271" y="433" width="3" height="4" fill="#c0c0c0" />
<rect x="275" y="433" width="3" height="3" fill="#c0c0c0" />
<rect x="279" y="433" width="3" height="2" fill="#c0c0c0" />
<rect x="283" y="433" width="3" height="1" fill="#c0c0c0" />
<rect x="287" y="433" width="3" height="1" fill="#c0c0c0" />
<rect x="291" y="433" width="3" height="1" fill="#c0c0c0" />
<rect x="295" y="433" width="3" height="1" fill="#c0c0c0" />
<rect x="299" y="433" width="3" height="1" fill="#c0c0c0" />
<rect x="303" y="433" width="3" height="1" fill="#c0c0c0" />
<rect x="307" y="433" width="3" height="1" fill="#c0c0c0" />
<rect x="311" y="433" width="3" height="1" fill="#c0c0c0" />
<rect x="315" y="433" width="3" height="1" fill="#c0c0c0" />
<rect x="319" y="433" width="3" height="1" fill="#c0c0c0" />
<rect x="323" y="433" width="3" height="1" fill="#c0c0c0" />
<rect x="327" y="433" width="3" height="1" fill="#c0c0c0" />
<rect x="331" y="433" width="3" height="1" fill="#c0c0c0" />
<rect x="335" y="433" width="3" height="1" fill="#c0c0c0" />
<rect x="339" y="433" width="3" height="1" fill="#c0c0c0" />
<rect x="343" y="433" width="3" height="3" fill="#c0c0c0" />
<rect x="347" y="433" width="3" height="3" fill="#c0c0c0" />
<rect x="351" y="433" width="3" height="4" fill="#c0c0c0" />
<rect x="355" y="433" width="3" height="3" fill="#c0c0c0" />
<rect x="359" y="433" width="3" height="3" fill="#c0c0c0" />
<rect x="363" y="433" width="3" height="2" fill="#c0c0c0" />
<rect x="367" y="433" width="3" height="2" fill="#c0c0c0" />
<rect x="371" y="433" width="3" height="1" fill="#c0c0c0" />
<rect x="375" y="432" width="3" height="1" fill="#c0c0c0" />
<rect x="379" y="431" width="3" height="2" fill="#c0c0c0" />
<rect x="383" y="430" width="3" height="3" fill="#c0c0c0" />
<rect x="387" y="430" width="3" height="3" fill="#c0c0c0" />
<rect x="391" y="429" width="3" height="4" fill="#c0c0c0" />
<rect x="395" y="430" width="3" height="3" fill="#c0c0c0" />
<rect x="399" y="429" width="3" height="4" fill="#c0c0c0" />
<rect x="403" y="429" width="3" height="4" fill="#c0c0c0" />
<rect x="407" y="429" width="3" height="4" fill="#c0c0c0" />
<rect x="411" y="429" width="3" height="4" fill="#c0c0c0" />
<rect x="415" y="421" width="3" height="12" fill="#c0c0c0" />
<rect x="419" y="415" width="3" height="18" fill="#c0c0c0" />
<rect x="423" y="411" width="3" height="22" fill="#c0c0c0" />
<rect x="427" y="407" width="3" height="26" fill="#c0c0c0" />
<rect x="431" y="403" width="3" height="30" fill="#c0c0c0" />
<rect x="435" y="401" width="3" height="32" fill="#c0c0c0" />
<rect x="439" y="399" width="3" height="34" fill="#c0c0c0" />
<rect x="443" y="398" width="3" height="35" fill="#c0c0c0" />
<rect x="447" y="398" width="3" height="35" fill="#c0c0c0" />
<rect x="451" y="399" width="3" height="34" fill="#c0c0c0" />
<rect x="455" y="400" width="3" height="33" fill="#c0c0c0" />
<rect x="459" y="402" width="3" height="31" fill="#c0c0c0" />
<rect x="463" y="404" width="3" height="29" fill="#c0c0c0" />
<rect x="467" y="405" width="3" height="28" fill="#c0c0c0" />
<rect x="471" y="406" width="3" height="27" fill="#c0c0c0" />
<rect x="475" y="407" width="3" height="26" fill="#c0c0c0" />
<rect x="479" y="408" width="3" height="25" fill="#c0c0c0" />
<rect x="483" y="409" width="3" height="24" fill="#c0c0c0" />
<rect x="487" y="410" width="3" height="23" fill="#c0c0c0" />
<rect x="491" y="411" width="3" height="22" fill="#c0c0c0" />
<rect x="495" y="413" width="3" height="20" fill="#c0c0c0" />
<rect x="499" y="414" width="3" height="19" fill="#c0c0c0" />
<rect x="503" y="414" width="3" height="19" fill="#c0c0c0" />
<rect x="507" y="415" width="3" height="18" fill="#c0c0c0" />
<rect x="511" y="415" width="3" height="18" fill="#c0c0c0" />
<rect x="515" y="417" width="3" height="16" fill="#c0c0c0" />
<rect x="519" y="418" width="3" height="15" fill="#c0c0c0" />
<rect x="523" y="419" width="3" height="14" fill="#c0c0c0" />
<rect x="527" y="420" width="3" height="13" fill="#c0c0c0" />
<rect x="531" y="421" width="3" height="12" fill="#c0c0c0" />
<rect x="535" y="421" width="3" height="12" fill="#c0c0c0" />
<rect x="539" y="423" width="3" height="10" fill="#c0c0c0" />
<rect x="543" y="425" width="3" height="8" fill="#c0c0c0" />
<rect x="547" y="429" width="3" height="4" fill="#c0c0c0" />
<rect x="551" y="431" width="3" height="2" fill="#c0c0c0" />
<rect x="555" y="432" width="3" height="1" fill="#c0c0c0" />
<rect x="559" y="433" width="3" height="2" fill="#c0c0c0" />
<rect x="563" y="433" width="3" height="3" fill="#c0c0c0" />
<rect x="567" y="433" width="3" height="4" fill="#c0c0c0" />
<rect x="571" y="433" width="3" height="4" fill="#c0c0c0" />
<rect x="575" y="433" width="3" height="5" fill="#c0c0c0" />
<rect x="579" y="433" width="3" height="5" fill="#c0c0c0" />
<rect x="583" y="433" width="3" height="6" fill="#c0c0c0" />
<rect x="587" y="433" width="3" height="5" fill="#c0c0c0" />
<rect x="591" y="433" width="3" height="5" fill="#c0c0c0" />
<rect x="595" y="433" width="3" height="4" fill="#c0c0c0" />
<rect x="599" y="433" width="3" height="4" fill="#c0c0c0" />
<rect x="603" y="433" width="3" height="3" fill="#c0c0c0" />
<rect x="607" y="433" width="3" height="3" fill="#c0c0c0" />
<rect x="611" y="433" width="3" height="2" fill="#c0c0c0" />
<rect x="615" y="433" width="3" height="3" fill="#c0c0c0" />
<rect x="619" y="433" width="3" height="2" fill="#c0c0c0" />
<rect x="623" y="433" width="3" height="2" fill="#c0c0c0" />
<rect x="627" y="433" width="3" height="2" fill="#c0c0c0" />
<rect x="631" y="433" width="3" height="2" fill="#c0c0c0" />
<rect x="635" y="433" width="3" height="2" fill="#c0c0c0" />
<rect x="639" y="433" width="3" height="2" fill="#c0c0c0" />
<rect x="643" y="433" width="3" height="2" fill="#c0c0c0" />
<rect x="647" y="433" width="3" height="2" fill="#c0c0c0" />
<rect x="651" y="433" width="3" height="2" fill="#c0c0c0" />
<rect x="655" y="433" width="3" height="2" fill="#c0c0c0" />
<rect x="659" y="433" width="3" height="2" fill="#c0c0c0" />
<rect x="663" y="433" width="3" height="2" fill="#c0c0c0" />
<rect x="667" y="433" width="3" height="2" fill="#c0c0c0" />
<rect x="671" y="433" width="3" height="1" fill="#c0c0c0" />
<rect x="675" y="433" width="3" height="1" fill="#c0c0c0" />
<rect x="679" y="433" width="3" height="1" fill="#c0c0c0" />
<rect x="683" y="433" width="3" height="1" fill="#c0c0c0" />
<rect x="687" y="433" width="3" height="1" fill="#c0c0c0" />
<rect x="691" y="432" width="3" height="1" fill="#c0c0c0" />
<rect x="695" y="428" width="3" height="5" fill="#c0c0c0" />
<rect x="699" y="425" width="3" height="8" fill="#c0c0c0" />
<rect x="703" y="417" width="3" height="16" fill="#c0c0c0" />
<rect x="707" y="412" width="3" height="21" fill="#c0c0c0" />
<rect x="711" y="408" width="3" height="25" fill="#c0c0c0" />
<rect x="715" y="406" width="3" height="27" fill="#c0c0c0" />
<rect x="719" y="402" width="3" height="31" fill="#c0c0c0" />
<rect x="723" y="401" width="3" height="32" fill="#c0c0c0" />
<rect x="727" y="399" width="3" height="34" fill="#c0c0c0" />
<rect x="731" y="403" width="3" height="30" fill="#c0c0c0" />
<rect x="735" y="404" width="3" height="29" fill="#c0c0c0" />
<rect x="739" y="405" width="3" height="28" fill="#c0c0c0" />
<rect x="743" y="407" width="3" height="26" fill="#c0c0c0" />
<rect x="747" y="408" width="3" height="25" fill="#c0c0c0" />
<rect x="751" y="409" width="3" height="24" fill="#c0c0c0" />
<rect x="755" y="409" width="3" height="24" fill="#c0c0c0" />
<rect x="759" y="410" width="3" height="23" fill="#c0c0c0" />
<rect x="763" y="410" width="3" height="23" fill="#c0c0c0" />
<rect x="767" y="409" width="3" height="24" fill="#c0c0c0" />
<rect x="771" y="407" width="3" height="26" fill="#c0c0c0" />
<rect x="775" y="405" width="3" height="28" fill="#c0c0c0" />
<rect x="779" y="403" width="3" height="30" fill="#c0c0c0" />
<rect x="783" y="402" width="3" height="31" fill="#c0c0c0" />
<rect x="787" y="403" width="3" height="30" fill="#c0c0c0" />
<rect x="791" y="403" width="3" height="30" fill="#c0c0c0" />
<rect x="795" y="404" width="3" height="29" fill="#c0c0c0" />
<rect x="799" y="403" width="3" height="30" fill="#c0c0c0" />
<rect x="803" y="403" width="3" height="30" fill="#c0c0c0" />
<rect x="807" y="406" width="3" height="27" fill="#c0c0c0" />
<rect x="811" y="408" width="3" height="25" fill="#c0c0c0" />
<rect x="815" y="411" width="3" height="22" fill="#c0c0c0" />
<rect x="819" y="415" width="3" height="18" fill="#c0c0c0" />
<rect x="823" y="417" width="3" height="16" fill="#c0c0c0" />
<rect x="827" y="419" width="3" height="14" fill="#c0c0c0" />
<rect x="831" y="421" width="3" height="12" fill="#c0c0c0" />
<rect x="835" y="424" width="3" height="9" fill="#c0c0c0" />
<rect x="839" y="429" width="3" height="4" fill="#c0c0c0" />
<rect x="843" y="432" width="3" height="1" fill="#c0c0c0" />
<rect x="847" y="433" width="3" height="2" fill="#c0c0c0" />
<rect x="851" y="433" width="3" height="2" fill="#c0c0c0" />
<rect x="855" y="433" width="3" height="2" fill="#c0c0c0" />
<rect x="859" y="433" width="3" height="1" fill="#c0c0c0" />
<rect x="863" y="433" width="3" height="1" fill="#c0c0c0" />
<rect x="867" y="432" width="3" height="1" fill="#c0c0c0" />
<rect x="871" y="431" width="3" height="2" fill="#c0c0c0" />
<rect x="875" y="430" width="3" height="3" fill="#c0c0c0" />
<rect x="879" y="429" width="3" height="4" fill="#c0c0c0" />
<rect x="883" y="428" width="3" height="5" fill="#c0c0c0" />
<rect x="887" y="427" width="3" height="6" fill="#c0c0c0" />
<rect x="891" y="426" width="3" height="7" fill="#c0c0c0" />
<rect x="895" y="425" width="3" height="8" fill="#c0c0c0" />
<rect x="899" y="425" width="3" height="8" fill="#c0c0c0" />
<rect x="903" y="424" width="3" height="9" fill="#c0c0c0" />
<rect x="907" y="425" width="3" height="8" fill="#c0c0c0" />
<rect x="911" y="426" width="3" height="7" fill="#c0c0c0" />
<rect x="915" y="427" width="3" height="6" fill="#c0c0c0" />
<rect x="919" y="428" width="3" height="5" fill="#c0c0c0" />
<rect x="923" y="427" width="3" height="6" fill="#c0c0c0" />
</g>
<polyline points="4.4,438.4 14.2,438.4 19.7,440.3 27.4,442.2 35.1,446.1 43.8,449.4 50.4,451.2 65.8,451.2 74.5,448.3 83.3,447.5 91,448.3 105.2,448.6 117.3,447.9 123.9,446.4 131,443.3 141.9,439.5 150.7,437.3 166,437.6 174.8,438.4 181.4,441.7 190.2,443.9 198.9,446.4 213.2,446.4 220.8,443.9 229.6,441.7 238.4,440.6 243.9,438.9 249.9,438.7 266.3,437.8 277.3,437 278.4,436.2 289.3,435.7 298.1,434.6 309.1,434.3 312.3,433.4 315.6,434.3 354,434.3 356.2,435.4 377.5,435.4 386.3,434 390.7,432.6 397.3,432.1 401.7,430.7 413.7,430.2 417,429.1 423.6,425.8 430.2,420.3 438.9,413.7 446.6,407.2 453.2,403.3 458.7,401.5 464.1,400.4 469.6,401.5 474,401.5 480.6,403.4 484.4,404.4 488.8,406.6 497.5,408.5 506.3,411 515.1,413.2 523.8,415.4 532.6,417.2 541.4,419.4 548,420.9 554.5,424.1 563.3,427.4 569.9,430.7 576.5,433.2 580.8,434.6 585.2,435.4 589.6,436.5 595.1,437.3 605.5,437.3 606.6,436.2 620.8,436.2 623,435.4 669,435.4 671.2,434.6 688.8,434.3 691,433.3 697.6,433.2 700.8,432.1 704.1,430.2 709.6,425.8 715.1,422 720.6,417.6 726,412.6 733.2,407.2 739.7,404.4 754,404.4 761.7,406.3 767.1,408.2 781.4,408.2 783.6,407.4 789.1,407.4 794.5,405.5 798.9,404.4 814.3,404.4 818.7,405.5 825.2,408.2 830.7,410.2 837.3,414.8 844.4,419.8 849.9,423.6 855.3,426.7 861.9,429.3 868.5,432.4 874,432.6 876.2,433.5 878.4,432.4 884.9,432.4 891.5,430.7 898.1,428.9 903.6,427.4 909.1,427.4 911.2,426.3 924.5,426.3" fill="none" stroke="#ff0000" stroke-width="1" shape-rendering="crispEdges"/>
<line x1="5" y1="483.5" x2="1166" y2="483.5" stroke="#c0c0c0" stroke-width="1" stroke-dasharray="3 3" shape-rendering="crispEdges"/>
<line x1="5" y1="513.5" x2="1166" y2="513.5" stroke="#c0c0c0" stroke-width="1" stroke-dasharray="3 3" shape-rendering="crispEdges"/>
<polyline points="4.2,506 8.4,510.6 12.6,507.1 16.8,513.4 21,517.6 24.6,520.5 28,520.5 32.3,518.4 36.5,517.2 40.7,517.2 44.9,508.2 48.4,508.2 52.6,505.7 56.1,505.4 60.4,502.6 64.6,506.4 68.8,505.4 72.3,512 76.5,513.4 80,512.5 82.8,512.5 88.4,516.2 92.6,518.4 96.1,506.4 100.4,505 104.6,500.1 108.1,502.2 112.3,500.1 116.5,499 120.7,498.4 124.9,498.4 128.4,494.5 132.6,500.1 136.1,500.1 140.4,498.4 144.6,499.4 148.8,501 152.6,500.4 156,502.4 160,511 163.2,509.4 166.5,509.4 169.9,510.8 173.2,512.1 176.5,514.3 180.4,511.7 183.7,512.4 187.7,509.7 192.4,505.1 195.7,503.4 199.6,505.1 203.6,505.5 207.6,503.7 210.9,501.5 214.9,499.4 220.1,499.4 223.5,498.1 228.1,503.1 232.1,505.5 236.7,500.4 240.7,502.4 244,502.4 247.9,500.4 251.9,501.8 256.5,505.5 260.5,503.4 264.5,497.5 268.4,497.5 272.4,500.4 277.1,497.8 280.4,493.6 284.3,493.6 288.3,499.4 293.6,499.4 296.2,500.7 300.2,496.5 304,501.4 313.2,501.4 315.9,502.8 319.9,499.3 323.8,500.6 328.5,498 332.4,495.4 336.4,502.4 341,502.4 344.3,503.7 348.3,500.4 352.3,508.3 356.2,500.4 360.2,501.4 363.5,499.1 367.5,495.7 372.1,493.8 376.5,488.5 380.5,494.4 384.7,493.5 388.7,493.5 392,492.2 396.3,497.5 400.3,492.4 404.6,495.4 412.5,495.4 414.5,481.9 416.5,474.2 420.4,476.3 424.4,476.3 430.4,474.6 437.6,474.2 443.6,475.9 450.2,477.6 455.3,480.5 459.9,483.2 464.3,485.6 468.5,483.2 472.5,481.2 476.5,483.2 484.4,483.4 489,485.6 493,485.6 497,484.2 500.3,486.5 504.3,483.4 508.2,482.9 512.2,484.5 516.8,490.5 521.5,489.1 528.1,487.1 532.7,488.5 536,489.1 540.7,499.1 544.6,500.6 548.2,511.6 552.6,507.3 555.9,508.6 560.5,505.4 563.8,503.3 569.8,503.3 575.7,505.4 581,505.4 584.7,507.7 588.3,500.6 591.6,499.3 596.2,502.4 600.2,495.4 604.2,496.2 608.6,498.4 612.6,497.5 616.5,503.3 620.5,503.3 624.5,500.6 629.1,500.6 632.4,502.4 636.4,500.4 640.4,502.4 644.3,499.3 647.6,498.4 652.3,499.3 656.2,499.3 660.2,497.5 664.2,502.4 668.2,503.7 672.1,498.4 676.1,498.4 680.7,494.4 684,495.4 688,495.4 692,490.5 694,485.2 696.3,476.6 700.6,476.3 704.6,469.7 708.5,478.1 712.5,476.3 716.5,480.5 720.4,478.5 724.4,479.5 728.4,479.5 732.3,493.5 736.3,490.5 744.3,490.5 748.2,491.4 752.2,489.5 756.8,488.5 760.3,489.5 763.9,486.9 767.2,484.2 772.5,482.1 777.1,479.2 781.1,481.6 784.4,480.3 789,485.6 793,484.2 797,483.2 801,481.2 804.9,483.2 808.2,490.1 812.2,491.4 816.2,496.1 820.1,498 824.8,495.4 828.7,497.5 832.1,496.4 836,503.7 840.7,508.3 844.6,506.3 852.6,498.4 855.9,499.3 859.8,497.5 863.8,498.4 868.4,494.4 876.4,494.4 880.4,492.4 885.3,492.4 890.6,490.5 904.5,490.5 912.4,498.4 916,499.5 920.4,495.4 924,494.2" fill="none" stroke="#1e90ff" stroke-width="1" shape-rendering="crispEdges"/>
<g shape-rendering="crispEdges" fill="none" stroke="#000" stroke-width="1">
<rect x="3.5" y="23.5" width="1163" height="369"/>
<rect x="3.5" y="394.5" width="1163" height="63"/>
<rect x="3.5" y="459.5" width="1163" height="77"/>
</g>
<g shape-rendering="crispEdges">
<rect x="1167" y="26" width="2" height="1" fill="#000" />
<rect x="1167" y="59" width="2" height="1" fill="#000" />
<rect x="1167" y="92" width="2" height="1" fill="#000" />
<rect x="1167" y="125" width="2" height="1" fill="#000" />
<rect x="1167" y="158" width="2" height="1" fill="#000" />
<rect x="1167" y="191" width="2" height="1" fill="#000" />
<rect x="1167" y="224" width="2" height="1" fill="#000" />
<rect x="1167" y="257" width="2" height="1" fill="#000" />
<rect x="1167" y="290" width="2" height="1" fill="#000" />
<rect x="1167" y="323" width="2" height="1" fill="#000" />
<rect x="1167" y="356" width="2" height="1" fill="#000" />
<rect x="1167" y="389" width="2" height="1" fill="#000" />
<rect x="1167" y="433" width="2" height="1" fill="#000" />
<rect x="1167" y="394" width="1" height="1" fill="#000" />
<rect x="1167" y="457" width="1" height="1" fill="#000" />
<rect x="1167" y="461" width="1" height="1" fill="#000" />
<rect x="1167" y="483" width="1" height="1" fill="#000" />
<rect x="1167" y="513" width="1" height="1" fill="#000" />
<rect x="1167" y="535" width="1" height="1" fill="#000" />
<rect x="4" y="537" width="1" height="3" fill="#000" />
<rect x="68" y="537" width="1" height="3" fill="#000" />
<rect x="132" y="537" width="1" height="3" fill="#000" />
<rect x="196" y="537" width="1" height="3" fill="#000" />
<rect x="260" y="537" width="1" height="3" fill="#000" />
<rect x="324" y="537" width="1" height="3" fill="#000" />
<rect x="388" y="537" width="1" height="3" fill="#000" />
<rect x="452" y="537" width="1" height="3" fill="#000" />
<rect x="516" y="537" width="1" height="3" fill="#000" />
<rect x="580" y="537" width="1" height="3" fill="#000" />
<rect x="644" y="537" width="1" height="3" fill="#000" />
<rect x="708" y="537" width="1" height="3" fill="#000" />
<rect x="772" y="537" width="1" height="3" fill="#000" />
<rect x="836" y="537" width="1" height="3" fill="#000" />
<rect x="900" y="537" width="1" height="3" fill="#000" />
</g>
<g shape-rendering="crispEdges">
<rect x="3" y="229" width="6" height="6" fill="#0000ff" />
<rect x="5" y="231" width="2" height="2" fill="#fff" />
<rect x="3" y="281" width="6" height="6" fill="#0000ff" />
<rect x="5" y="283" width="2" height="2" fill="#fff" />
<rect x="3" y="100" width="6" height="6" fill="#ff0000" />
<rect x="5" y="102" width="2" height="2" fill="#fff" />
<rect x="1160" y="229" width="6" height="6" fill="#0000ff" />
<rect x="1162" y="231" width="2" height="2" fill="#fff" />
<rect x="1160" y="281" width="6" height="6" fill="#0000ff" />
<rect x="1162" y="283" width="2" height="2" fill="#fff" />
<rect x="1160" y="100" width="6" height="6" fill="#ff0000" />
<rect x="1162" y="102" width="2" height="2" fill="#fff" />
</g>
<text x="1172" y="29.3" font-size="9" fill="#000" textLength="33" lengthAdjust="spacingAndGlyphs" >7.21840</text>
<text x="1172" y="62.3" font-size="9" fill="#000" textLength="33" lengthAdjust="spacingAndGlyphs" >7.16740</text>
<text x="1172" y="95.3" font-size="9" fill="#000" textLength="33" lengthAdjust="spacingAndGlyphs" >7.11640</text>
<text x="1172" y="128.3" font-size="9" fill="#000" textLength="33" lengthAdjust="spacingAndGlyphs" >7.06690</text>
<text x="1172" y="161.3" font-size="9" fill="#000" textLength="33" lengthAdjust="spacingAndGlyphs" >7.01590</text>
<text x="1172" y="194.3" font-size="9" fill="#000" textLength="33" lengthAdjust="spacingAndGlyphs" >6.96490</text>
<text x="1172" y="227.3" font-size="9" fill="#000" textLength="33" lengthAdjust="spacingAndGlyphs" >6.91390</text>
<text x="1172" y="260.3" font-size="9" fill="#000" textLength="33" lengthAdjust="spacingAndGlyphs" >6.86290</text>
<text x="1172" y="293.3" font-size="9" fill="#000" textLength="33" lengthAdjust="spacingAndGlyphs" >6.81190</text>
<text x="1172" y="326.3" font-size="9" fill="#000" textLength="33" lengthAdjust="spacingAndGlyphs" >6.76090</text>
<text x="1172" y="359.3" font-size="9" fill="#000" textLength="33" lengthAdjust="spacingAndGlyphs" >6.70990</text>
<text x="1172" y="392.3" font-size="9" fill="#000" textLength="33" lengthAdjust="spacingAndGlyphs" >6.66040</text>
<rect x="1168" y="77.7" width="41" height="9.6" fill="#000" />
<text x="1172" y="85.4" font-size="9" fill="#fff" textLength="33" lengthAdjust="spacingAndGlyphs" >7.13290</text>
<rect x="1168" y="97.4" width="41" height="10.4" fill="#ff0000" />
<text x="1172" y="105.5" font-size="9" fill="#fff" textLength="33" lengthAdjust="spacingAndGlyphs" >7.10015</text>
<rect x="1168" y="162.2" width="41" height="10.5" fill="#00ff00" />
<text x="1172" y="170.35" font-size="9" fill="#fff" textLength="33" lengthAdjust="spacingAndGlyphs" >7.00035</text>
<rect x="1168" y="226.1" width="41" height="10.5" fill="#0000ff" />
<text x="1172" y="234.25" font-size="9" fill="#fff" textLength="33" lengthAdjust="spacingAndGlyphs" >6.90130</text>
<rect x="1168" y="278.1" width="41" height="10.5" fill="#0000ff" />
<text x="1172" y="286.25" font-size="9" fill="#fff" textLength="33" lengthAdjust="spacingAndGlyphs" >6.82141</text>
<text x="1170.5" y="405" font-size="9" fill="#000" textLength="37.3" lengthAdjust="spacingAndGlyphs" >0.063184</text>
<text x="1170.5" y="437.4" font-size="9" fill="#000" textLength="17.2" lengthAdjust="spacingAndGlyphs" >0.00</text>
<text x="1170.5" y="454.5" font-size="9" fill="#000" textLength="40.6" lengthAdjust="spacingAndGlyphs" >-0.040355</text>
<text x="1170.6" y="470" font-size="9" fill="#000" textLength="14.3" lengthAdjust="spacingAndGlyphs" >100</text>
<text x="1169.8" y="486.9" font-size="9" fill="#000" textLength="9.2" lengthAdjust="spacingAndGlyphs" >70</text>
<text x="1169.8" y="517" font-size="9" fill="#000" textLength="9.2" lengthAdjust="spacingAndGlyphs" >30</text>
<text x="1170.4" y="533" font-size="9" fill="#000" textLength="4.6" lengthAdjust="spacingAndGlyphs" >0</text>
<text x="8.5" y="406.9" font-size="10.2" fill="#000" textLength="147.3" lengthAdjust="spacingAndGlyphs" >MACD(12,26,9) 0.008882 0.011570</text>
<text x="8.7" y="472" font-size="10.2" fill="#000" textLength="67.3" lengthAdjust="spacingAndGlyphs" >RSI(14) 55.4648</text>
<path d="M7.3,34.3 L13.9,34.3 L10.6,30 Z" fill="#000"/>
<text x="19.3" y="35" font-size="10" fill="#000" textLength="65" lengthAdjust="spacingAndGlyphs" >USDCNH,Daily</text>
<text x="91" y="35" font-size="9.7" fill="#000" textLength="140.6" lengthAdjust="spacingAndGlyphs" >7.12986 7.13465 7.12230 7.13290</text>
<text x="3.3" y="548.8" font-size="9" fill="#000" textLength="45.1" lengthAdjust="spacingAndGlyphs" >5 Jan 2019</text>
<text x="67.3" y="548.8" font-size="9" fill="#000" textLength="49.8" lengthAdjust="spacingAndGlyphs" >24 Jan 2019</text>
<text x="131.3" y="548.8" font-size="9" fill="#000" textLength="52" lengthAdjust="spacingAndGlyphs" >12 Feb 2019</text>
<text x="195.3" y="548.8" font-size="9" fill="#000" textLength="46.9" lengthAdjust="spacingAndGlyphs" >2 Mar 2019</text>
<text x="259.3" y="548.8" font-size="9" fill="#000" textLength="52.3" lengthAdjust="spacingAndGlyphs" >21 Mar 2019</text>
<text x="323.3" y="548.8" font-size="9" fill="#000" textLength="46.3" lengthAdjust="spacingAndGlyphs" >9 Apr 2019</text>
<text x="387.3" y="548.8" font-size="9" fill="#000" textLength="50.6" lengthAdjust="spacingAndGlyphs" >29 Apr 2019</text>
<text x="451.3" y="548.8" font-size="9" fill="#000" textLength="55.5" lengthAdjust="spacingAndGlyphs" >23 May 2019</text>
<text x="515.3" y="548.8" font-size="9" fill="#000" textLength="49.9" lengthAdjust="spacingAndGlyphs" >11 Jun 2019</text>
<text x="579.3" y="548.8" font-size="9" fill="#000" textLength="50" lengthAdjust="spacingAndGlyphs" >29 Jun 2019</text>
<text x="643.3" y="548.8" font-size="9" fill="#000" textLength="47.5" lengthAdjust="spacingAndGlyphs" >18 Jul 2019</text>
<text x="707.3" y="548.8" font-size="9" fill="#000" textLength="48.3" lengthAdjust="spacingAndGlyphs" >6 Aug 2019</text>
<text x="771.3" y="548.8" font-size="9" fill="#000" textLength="53" lengthAdjust="spacingAndGlyphs" >24 Aug 2019</text>
<text x="835.3" y="548.8" font-size="9" fill="#000" textLength="51.7" lengthAdjust="spacingAndGlyphs" >12 Sep 2019</text>
<text x="899.3" y="548.8" font-size="9" fill="#000" textLength="46.4" lengthAdjust="spacingAndGlyphs" >1 Oct 2019</text>
<rect x="5" y="41" width="223" height="68" fill="#fff" />
<rect x="7" y="43" width="52" height="25" fill="url(#gb)" />
<rect x="7" y="67" width="109" height="40" fill="url(#gb)" />
<rect x="174" y="43" width="52" height="25" fill="url(#gb)" />
<rect x="118" y="67" width="108" height="40" fill="url(#gb)" />
<rect x="7" y="43" width="52" height="1" fill="#1a1ad0" />
<rect x="7" y="43" width="1" height="64" fill="#1212c8" />
<rect x="58" y="43" width="1" height="24" fill="#1010c0" />
<rect x="174" y="43" width="52" height="1" fill="#1a1ad0" />
<rect x="174" y="43" width="1" height="24" fill="#1212c8" />
<rect x="225" y="43" width="1" height="64" fill="#0a0ab8" />
<rect x="115" y="67" width="1" height="40" fill="#0808b0" />
<rect x="118" y="67" width="1" height="40" fill="#1010c0" />
<rect x="59" y="67" width="57" height="1" fill="#0c0cc0" />
<rect x="118" y="67" width="56" height="1" fill="#0c0cc0" />
<rect x="11" y="66.3" width="44" height="0.8" fill="#1414b8" />
<rect x="11" y="67" width="44" height="1.1" fill="#8a8af6" />
<rect x="178" y="66.3" width="44" height="0.8" fill="#1414b8" />
<rect x="178" y="67" width="44" height="1.1" fill="#8a8af6" />
<text x="19.5" y="58.7" font-size="12" fill="#fff" textLength="25.3" lengthAdjust="spacingAndGlyphs" >SELL</text>
<text x="187.5" y="58.7" font-size="12" fill="#fff" textLength="22.6" lengthAdjust="spacingAndGlyphs" >BUY</text>
<text x="27" y="97.8" font-size="12" fill="#fff" font-weight="bold" textLength="23.9" lengthAdjust="spacingAndGlyphs" >7.13</text>
<text x="137.3" y="97.8" font-size="12" fill="#fff" font-weight="bold" textLength="23.7" lengthAdjust="spacingAndGlyphs" >7.13</text>
<text x="54.8" y="98.2" font-size="34.6" fill="#fff" textLength="35.2" lengthAdjust="spacingAndGlyphs" >29</text>
<text x="165.2" y="98.2" font-size="34.6" fill="#fff" textLength="35.3" lengthAdjust="spacingAndGlyphs" >69</text>
<text x="94.2" y="81.8" font-size="11.2" fill="#fff" font-weight="bold" textLength="7" lengthAdjust="spacingAndGlyphs" >0</text>
<text x="205" y="81.5" font-size="11.2" fill="#fff" font-weight="bold" textLength="7" lengthAdjust="spacingAndGlyphs" >1</text>
<rect x="61.5" y="43.5" width="110" height="21" fill="#fff" stroke="#a9abb3" stroke-width="1"/>
<rect x="63" y="45" width="18" height="18" fill="url(#gbtn)" />
<rect x="152" y="45" width="18" height="18" fill="url(#gbtn)" />
<rect x="82" y="44" width="0.8" height="20" fill="#a9abb3" />
<rect x="150.2" y="44" width="0.8" height="20" fill="#a9abb3" />
<path d="M68.8,52 L74.1,52 L71.45,55.3 Z" fill="url(#garr)"/>
<path d="M157.9,55 L163,55 L160.45,51.8 Z" fill="url(#garr2)"/>
<text x="123.6" y="57.7" font-size="11.9" fill="#000" textLength="23.2" lengthAdjust="spacingAndGlyphs" >5.00</text>
<rect x="0" y="557" width="1209" height="2" fill="#f6f6f6" />
<rect x="0" y="559" width="1209" height="1" fill="#000" />
<rect x="0" y="560" width="1209" height="18" fill="#f0f0f0" />
<rect x="0" y="578" width="1209" height="3" fill="#fbfbfb" />
<rect x="0" y="581" width="1209" height="1" fill="#ececec" />
<rect x="0" y="582" width="1209" height="1" fill="#bdbdbd" />
<rect x="0" y="583" width="1209" height="1" fill="#9c9c9c" />
<rect x="0" y="560" width="1" height="18" fill="#505050" />
<rect x="418" y="559" width="102" height="18" fill="#fff" />
<rect x="417" y="559" width="1" height="18.5" fill="#000" />
<rect x="520" y="559" width="1" height="18.5" fill="#000" />
<rect x="417" y="576.5" width="104" height="1.2" fill="#000" />
<rect x="418" y="577.7" width="104" height="0.8" fill="#888" />
<text x="17.4" y="574" font-size="12.3" fill="#6e6e6e" textLength="79.6" lengthAdjust="spacingAndGlyphs" >EURUSD,Daily</text>
<text x="120.5" y="574" font-size="12.3" fill="#6e6e6e" textLength="81.3" lengthAdjust="spacingAndGlyphs" >AUDUSD,Daily</text>
<text x="223.6" y="574" font-size="12.3" fill="#6e6e6e" textLength="78.4" lengthAdjust="spacingAndGlyphs" >USDCHF,Daily</text>
<text x="324.4" y="574" font-size="12.3" fill="#6e6e6e" textLength="80.2" lengthAdjust="spacingAndGlyphs" >USDCAD,Daily</text>
<text x="532" y="574" font-size="12.3" fill="#6e6e6e" textLength="68" lengthAdjust="spacingAndGlyphs" >XAUUSD,H4</text>
<text x="623.6" y="574" font-size="12.3" fill="#6e6e6e" textLength="45.6" lengthAdjust="spacingAndGlyphs" >DJ30,H4</text>
<text x="693.6" y="574" font-size="12.3" fill="#6e6e6e" textLength="59" lengthAdjust="spacingAndGlyphs" >USDOil,H1</text>
<text x="775.6" y="574" font-size="12.3" fill="#6e6e6e" textLength="65.4" lengthAdjust="spacingAndGlyphs" >USDCHF,H1</text>
<text x="865.4" y="574" font-size="12.3" fill="#6e6e6e" textLength="66.9" lengthAdjust="spacingAndGlyphs" >GBPUSD,H1</text>
<text x="957.5" y="574" font-size="12.3" fill="#6e6e6e" textLength="67.1" lengthAdjust="spacingAndGlyphs" >EURUSD,H1</text>
<text x="1048.2" y="574" font-size="12.3" fill="#6e6e6e" textLength="68.2" lengthAdjust="spacingAndGlyphs" >GBPAUD,H1</text>
<text x="1139.5" y="574" font-size="12.3" fill="#6e6e6e" textLength="35.9" lengthAdjust="spacingAndGlyphs" >USDJP</text>
<text x="427.3" y="574" font-size="12.3" fill="#000" textLength="82.7" lengthAdjust="spacingAndGlyphs" >USDCNH,Daily</text>
<rect x="109.2" y="562" width="1" height="13.5" fill="#8c8c8c" />
<rect x="212.8" y="562" width="1" height="13.5" fill="#8c8c8c" />
<rect x="312.8" y="562" width="1" height="13.5" fill="#8c8c8c" />
<rect x="612.8" y="562" width="1" height="13.5" fill="#8c8c8c" />
<rect x="681" y="562" width="1" height="13.5" fill="#8c8c8c" />
<rect x="764.9" y="562" width="1" height="13.5" fill="#8c8c8c" />
<rect x="852.8" y="562" width="1" height="13.5" fill="#8c8c8c" />
<rect x="944.7" y="562" width="1" height="13.5" fill="#8c8c8c" />
<rect x="1037" y="562" width="1" height="13.5" fill="#8c8c8c" />
<rect x="1128.8" y="562" width="1" height="13.5" fill="#8c8c8c" />
<path d="M1185,565 L1185,571 L1181.6,568 Z" fill="#a0a0a0"/>
<path d="M1200.8,564.6 L1200.8,571.2 L1204.4,567.9 Z" fill="#000"/>
</svg>
</body></html>
